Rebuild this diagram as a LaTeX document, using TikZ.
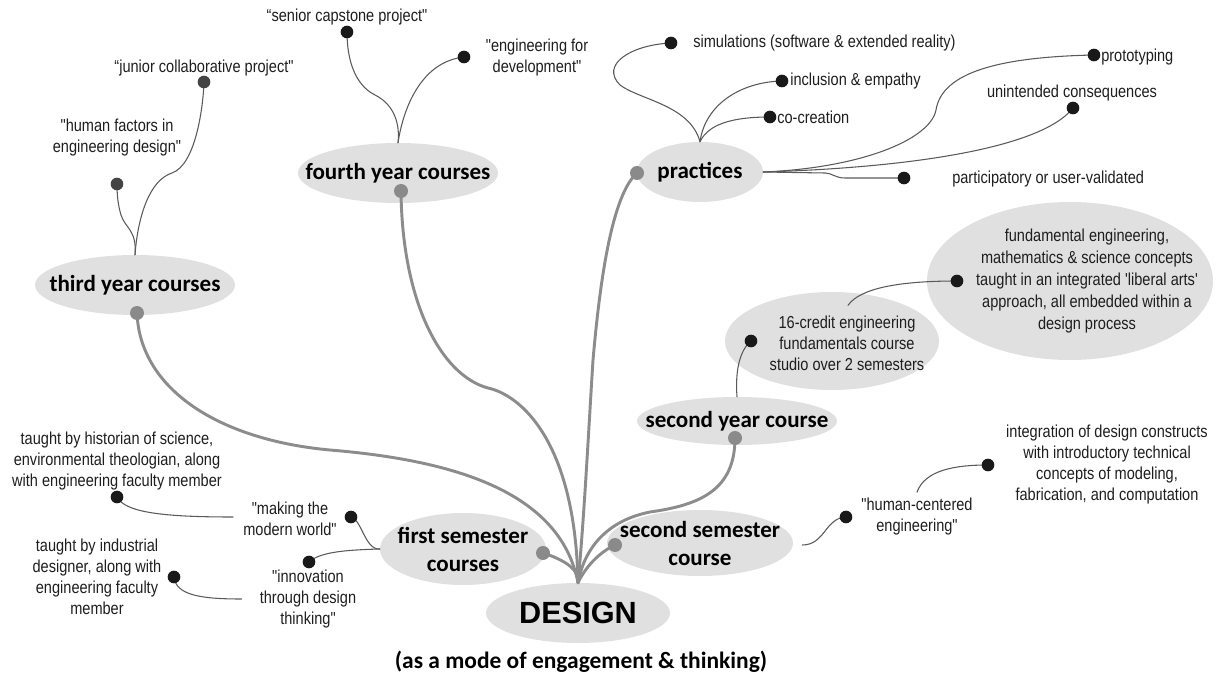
\documentclass[tikz,border=0pt]{standalone}
\usepackage{fontspec}
\setmainfont{Liberation Sans}
\newfontfamily\narfont[FakeStretch=0.84]{Liberation Sans}
\newfontfamily\calfont{Carlito}
\usetikzlibrary{shapes.geometric,calc}
\pgfdeclarelayer{bg}\pgfdeclarelayer{lines}
\pgfsetlayers{bg,lines,main}
\definecolor{ellfill}{HTML}{E0E0E0}
\definecolor{trunkc}{HTML}{8C8C8C}
\definecolor{twigc}{HTML}{5A5A5A}
\definecolor{gdotc}{HTML}{8A8A8A}
\definecolor{ddotc}{HTML}{444444}
\definecolor{txtc}{HTML}{1E1E1E}
\begin{document}
\begin{tikzpicture}[x=0.75pt,y=-0.75pt,
  ell/.style={ellipse, fill=ellfill, inner sep=-60pt, align=center, font=\calfont\bfseries\fontsize{17.3}{21}\selectfont, text=black},
  lbl/.style={inner sep=0pt, align=center, font=\narfont\fontsize{13}{15.75}\selectfont, text=txtc},
  bdot/.style={circle, fill=black!90, inner sep=0pt, minimum size=9.5pt},
  gdot/.style={circle, fill=gdotc, inner sep=0pt, minimum size=10.5pt},
  ddot/.style={circle, fill=ddotc, inner sep=0pt, minimum size=9.5pt},
  trunk/.style={draw=trunkc, line width=2.2pt, line cap=round},
  twig/.style={draw=twigc, line width=0.8pt, line cap=round}]
\path[use as bounding box] (0,0) rectangle (1217,677);

\begin{pgfonlayer}{bg}
\node[ell, minimum width=150pt, minimum height=45pt] (third) at (135,285) {third year courses};
\node[ell, minimum width=150pt, minimum height=45pt] (fourth) at (398,173) {fourth year courses};
\node[ell, minimum width=94.5pt, minimum height=45pt] (prac) at (700,172) {practices};
\node[ell, minimum width=150pt, minimum height=36pt] (sy) at (737,421) {second year course};
\node[ell, minimum width=160.5pt, minimum height=73.5pt] (credit) at (832,341) {};
\node[ell, minimum width=214.5pt, minimum height=118.5pt] (fund) at (1070,281) {};
\node[ell, minimum width=124.5pt, minimum height=54pt] (sem1) at (463,549) {first semester\\courses};
\node[ell, minimum width=139.5pt, minimum height=49.5pt] (sem2) at (700,543) {second semester\\course};
\node[ell, minimum width=138pt, minimum height=45pt, font=\bfseries\fontsize{23}{26}\selectfont] (design) at (578,613) {DESIGN};
\end{pgfonlayer}

% texts
\node[lbl] (senior) at (347,17) {“senior capstone project"};
\node[lbl] (junior) at (204,68) {“junior collaborative project"};
\node[lbl] (hf) at (117,138) {"human factors in\\engineering design"};
\node[lbl] (engdev) at (537,58) {"engineering for\\development"};
\node[lbl, anchor=west] (sim) at (693,43) {simulations (software \& extended reality)};
\node[lbl, anchor=west] (incl) at (790,81) {inclusion \& empathy};
\node[lbl, anchor=west] (cocr) at (777,117) {co-creation};
\node[lbl, anchor=west] (proto) at (1101,57) {prototyping};
\node[lbl] (unint) at (1072,93) {unintended consequences};
\node[lbl, anchor=west] (partic) at (952,179) {participatory or user-validated};
\node[lbl, font=\narfont\fontsize{13}{16.5}\selectfont] (fundt) at (1087,281) {fundamental engineering,\\mathematics \& science concepts\\taught in an integrated 'liberal arts'\\approach, all embedded within a\\design process};
\node[lbl] (creditt) at (847,343) {16-credit engineering\\fundamentals course\\studio over 2 semesters};
\node[lbl] (integ) at (1107,465) {integration of design constructs\\with introductory technical\\concepts of modeling,\\fabrication, and computation};
\node[lbl] (hc) at (917,517) {"human-centered\\engineering"};
\node[lbl] (hist) at (117,461) {taught by historian of science,\\environmental theologian, along\\with engineering faculty member};
\node[lbl] (mk) at (290,519) {"making the\\modern world"};
\node[lbl] (inn) at (308,599) {"innovation\\through design\\thinking"};
\node[lbl] (ind) at (97,577) {taught by industrial\\designer, along with\\engineering faculty\\member};
\node[font=\calfont\bfseries\fontsize{17.6}{21}\selectfont, inner sep=0pt] (caption) at (581,662) {(as a mode of engagement \& thinking)};

% dots
\node[gdot] (d-third) at (137,313) {};
\node[gdot] (d-fourth) at (401,191) {};
\node[gdot] (d-prac) at (637,173) {};
\node[gdot] (d-sy) at (735,438) {};
\node[gdot] (d-sem1) at (543,553) {};
\node[gdot] (d-sem2) at (615,545) {};
\node[ddot] (d-junior) at (204,82) {};
\node[ddot] (d-hf) at (117,184) {};
\node[bdot] (d-senior) at (347,32) {};
\node[bdot] (d-engdev) at (464,57) {};
\node[bdot] (d-sim) at (671,43) {};
\node[bdot] (d-incl) at (782,81) {};
\node[bdot] (d-cocr) at (770,117) {};
\node[bdot] (d-proto) at (1094,55) {};
\node[bdot] (d-unint) at (1073,108) {};
\node[bdot] (d-partic) at (904,178) {};
\node[bdot] (d-fund) at (957,281) {};
\node[bdot] (d-credit) at (751,341) {};
\node[bdot] (d-integ) at (988,465) {};
\node[bdot] (d-hc) at (846,517) {};
\node[bdot] (d-mk) at (351,517) {};
\node[bdot] (d-inn) at (309,562) {};
\node[bdot] (d-hist) at (117,497) {};
\node[bdot] (d-ind) at (174,577) {};

\begin{pgfonlayer}{lines}
% trunks
\draw[trunk] (d-third.center) .. controls (140,390) and (220,440) .. (330,450) .. controls (450,460) and (560,490) .. (design.north);
\draw[trunk] (d-fourth.center) .. controls (402,300) and (440,375) .. (488,388) .. controls (520,395) and (575,440) .. (design.north);
\draw[trunk] (d-prac.center) .. controls (612,195) and (600,280) .. (593,360) .. controls (588,440) and (584,520) .. (design.north);
\draw[trunk] (d-sy.center) .. controls (735,490) and (700,505) .. (650,512) .. controls (610,520) and (585,545) .. (design.north);
\draw[trunk] (d-sem1.center) .. controls (565,560) and (580,570) .. (design.north);
\draw[trunk] (d-sem2.center) .. controls (598,553) and (585,568) .. (design.north);
% twigs
\draw[twig] (third.north) .. controls (138,215) and (150,180) .. (172,173) .. controls (195,165) and (203,110) .. (d-junior.center);
\draw[twig] (third.north) .. controls (137,230) and (125,228) .. (121,215) .. controls (118,205) and (117,195) .. (d-hf.center);
\draw[twig] (fourth.north) .. controls (400,125) and (395,105) .. (375,95) .. controls (355,85) and (347,60) .. (d-senior.center);
\draw[twig] (fourth.north) .. controls (403,110) and (420,62) .. (d-engdev.center);
\draw[twig] (prac.north) .. controls (690,105) and (640,100) .. (620,85) .. controls (600,65) and (630,45) .. (d-sim.center);
\draw[twig] (prac.north) .. controls (705,105) and (740,82) .. (d-incl.center);
\draw[twig] (prac.north) .. controls (708,125) and (730,117) .. (d-cocr.center);
\draw[twig] (prac.east) .. controls (860,168) and (930,140) .. (936,110) .. controls (942,72) and (1000,57) .. (d-proto.center);
\draw[twig] (prac.east) .. controls (900,168) and (1040,150) .. (d-unint.center);
\draw[twig] (prac.east) -- (825,173) .. controls (832,173) and (835,178) .. (845,178) -- (d-partic.center);
\draw[twig] ($(creditt.north)+(1,-10)$) .. controls (860,288) and (900,281) .. (d-fund.center);
\draw[twig] (sy.north) .. controls (735,370) and (740,350) .. (d-credit.center);
\draw[twig] ($(sem2.east)+(9,2)$) .. controls (825,545) and (825,518) .. (d-hc.center);
\draw[twig] ($(hc.north)+(0,-6)$) .. controls (925,470) and (955,465) .. (d-integ.center);
\draw[twig] (sem1.west) .. controls (365,550) and (362,520) .. (d-mk.center);
\draw[twig] (sem1.west) .. controls (345,550) and (320,552) .. (d-inn.center);
\draw[twig] ($(mk.west)+(-10,-2)$) .. controls (160,517) and (125,512) .. (d-hist.center);
\draw[twig] ($(inn.west)+(-18,0)$) .. controls (200,599) and (176,595) .. (d-ind.center);
\end{pgfonlayer}
\end{tikzpicture}
\end{document}
